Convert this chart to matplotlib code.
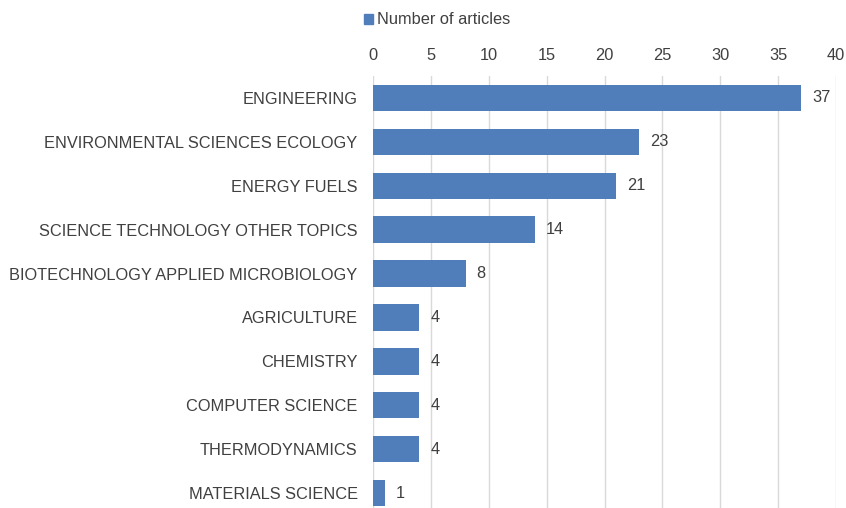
import matplotlib as mpl
mpl.use('Agg')
import matplotlib.pyplot as plt
from matplotlib.patches import Patch

categories = ['ENGINEERING', 'ENVIRONMENTAL SCIENCES ECOLOGY', 'ENERGY FUELS',
              'SCIENCE TECHNOLOGY OTHER TOPICS', 'BIOTECHNOLOGY APPLIED MICROBIOLOGY',
              'AGRICULTURE', 'CHEMISTRY', 'COMPUTER SCIENCE', 'THERMODYNAMICS',
              'MATERIALS SCIENCE']
articles = [37, 23, 21, 14, 8, 4, 4, 4, 4, 1]
xticks = [0, 5, 10, 15, 20, 25, 30, 35, 40]

bar_color = '#4F7EBB'
text_color = '#404040'
grid_color = '#D9D9D9'
fs = 11.8

plt.rcParams['font.family'] = ['Liberation Sans', 'DejaVu Sans']

fig = plt.figure(figsize=(8.46, 5.08), dpi=100)
ax = fig.add_axes([373/846, -7/508, 463/846, 439/508])

ypos = list(range(len(categories)))
ax.barh(ypos, articles, height=0.6, color=bar_color, zorder=3)
ax.set_ylim(len(categories) - 0.5, -0.5)
ax.set_xlim(0, 40)

for y, v in zip(ypos, articles):
    ax.annotate(str(v), (v, y), xytext=(8, 0), textcoords='offset points',
                va='center', ha='left', fontsize=fs, color=text_color)

ax.set_yticks(ypos)
ax.set_yticklabels(categories, fontsize=fs, color=text_color)
ax.xaxis.tick_top()
ax.set_xticks(xticks)
ax.set_xticklabels([str(t) for t in xticks], fontsize=fs, color=text_color)
ax.tick_params(axis='both', length=0)
ax.tick_params(axis='x', pad=9)
ax.tick_params(axis='y', pad=11)

ax.grid(axis='x', color=grid_color, linewidth=1, zorder=0)
for s in ax.spines.values():
    s.set_visible(False)

fig.legend(handles=[Patch(color=bar_color, label='Number of articles')],
           loc='center', bbox_to_anchor=(437/846, 1 - 20/508), frameon=False,
           fontsize=fs, handlelength=0.55, handleheight=0.55, handletextpad=0.25,
           labelcolor=text_color)

fig.savefig('out.png', dpi=100)
